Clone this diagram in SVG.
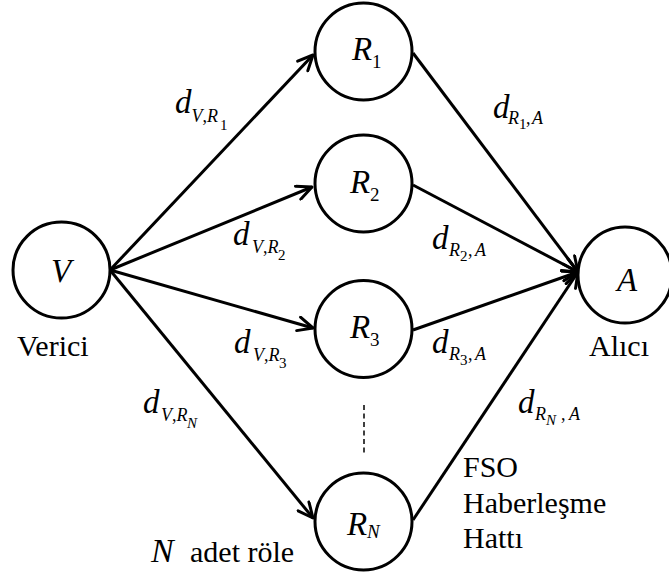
<svg xmlns="http://www.w3.org/2000/svg" width="669" height="579" viewBox="0 0 669 579" font-family="'Liberation Serif', 'Times New Roman', serif">
<style>
.node{fill:#fff;stroke:#000;stroke-width:3}
.edge{fill:none;stroke:#000;stroke-width:3;marker-end:url(#arr)}
.dash{fill:none;stroke:#000;stroke-width:1.5;stroke-dasharray:5,3.5}
text{font-family:'Liberation Serif','Times New Roman',serif;fill:#000}
.it{font-style:italic}
.big{font-size:33px}
.sub{font-size:18px}
.sub2{font-size:15px}
.rsub{font-size:19px}
.lbl{font-size:30px}
</style>
<defs>
<marker id="arr" viewBox="0 0 19 17" refX="17" refY="8.5" markerWidth="19" markerHeight="17" markerUnits="userSpaceOnUse" orient="auto">
<path d="M2,1.5 L17,8.5 L2,15.5" fill="none" stroke="#000" stroke-width="3" stroke-linejoin="round" stroke-linecap="round"/>
</marker>
</defs>
<rect width="669" height="579" fill="#fff"/>
<g id="connectors">
<line class="edge" x1="110" y1="270" x2="313" y2="55"/>
<line class="edge" x1="110" y1="270" x2="312" y2="187"/>
<line class="edge" x1="110" y1="270" x2="313" y2="328"/>
<line class="edge" x1="110" y1="270" x2="313" y2="518"/>
<line class="edge" x1="413" y1="53" x2="578" y2="272"/>
<line class="edge" x1="413" y1="185" x2="578" y2="272"/>
<line class="edge" x1="413" y1="330" x2="578" y2="272"/>
<line class="edge" x1="413" y1="520" x2="578" y2="272"/>
<line class="dash" x1="364" y1="405" x2="364" y2="453"/>
</g>
<g id="node-V">
<ellipse class="node" cx="61.5" cy="270" rx="48.5" ry="48"/>
<text class="it big" x="51" y="282">V</text>
<text class="lbl" x="17" y="356">Verici</text>
</g>
<g id="node-R1">
<ellipse class="node" cx="363.5" cy="51.5" rx="48.5" ry="48.5"/>
<text x="352" y="60"><tspan class="it big">R</tspan><tspan class="rsub" x="372" y="68">1</tspan></text>
</g>
<g id="node-R2">
<ellipse class="node" cx="363.5" cy="183.5" rx="48.5" ry="48.5"/>
<text x="350" y="193"><tspan class="it big">R</tspan><tspan class="rsub" x="370" y="201">2</tspan></text>
</g>
<g id="node-R3">
<ellipse class="node" cx="363.5" cy="329" rx="48.5" ry="48.5"/>
<text x="350" y="338"><tspan class="it big">R</tspan><tspan class="rsub" x="370" y="346">3</tspan></text>
</g>
<g id="node-RN">
<ellipse class="node" cx="363.5" cy="521.5" rx="48.5" ry="48.5"/>
<text x="347" y="535"><tspan class="it big">R</tspan><tspan class="it rsub" x="367" y="538">N</tspan></text>
</g>
<g id="node-A">
<ellipse class="node" cx="625" cy="275" rx="47" ry="48"/>
<text class="it big" x="617" y="291">A</text>
<text class="lbl" x="589" y="356">Alıcı</text>
</g>
<g id="labels">
<text x="175" y="113"><tspan class="it big">d</tspan><tspan class="sub" y="122"><tspan class="it">V</tspan>,<tspan class="it">R</tspan></tspan><tspan class="sub2" x="220" y="130">1</tspan></text>
<text x="493" y="118"><tspan class="it big">d</tspan><tspan class="sub it" x="508" y="124">R</tspan><tspan class="sub2" x="519" y="129">1</tspan><tspan class="sub" x="526" y="124">,</tspan><tspan class="sub it" x="532" y="124">A</tspan></text>
<text x="233" y="245"><tspan class="it big">d</tspan><tspan class="sub" x="252" y="253"><tspan class="it">V</tspan>,<tspan class="it">R</tspan></tspan><tspan class="sub2" x="278" y="260">2</tspan></text>
<text x="432" y="249"><tspan class="it big">d</tspan><tspan class="sub it" x="449" y="256">R</tspan><tspan class="sub2" x="460" y="261">2</tspan><tspan class="sub" x="468" y="256">,</tspan><tspan class="sub it" x="475" y="256">A</tspan></text>
<text x="234" y="353"><tspan class="it big">d</tspan><tspan class="sub" x="253" y="361"><tspan class="it">V</tspan>,<tspan class="it">R</tspan></tspan><tspan class="sub2" x="279" y="368">3</tspan></text>
<text x="432" y="353"><tspan class="it big">d</tspan><tspan class="sub it" x="449" y="360">R</tspan><tspan class="sub2" x="460" y="365">3</tspan><tspan class="sub" x="468" y="360">,</tspan><tspan class="sub it" x="475" y="360">A</tspan></text>
<text x="143" y="413"><tspan class="it big">d</tspan><tspan class="sub" x="161" y="421"><tspan class="it">V</tspan>,<tspan class="it">R</tspan></tspan><tspan class="sub2 it" x="187" y="428">N</tspan></text>
<text x="518" y="413"><tspan class="it big">d</tspan><tspan class="sub it" x="535" y="420">R</tspan><tspan class="sub2 it" x="546" y="425">N</tspan><tspan class="sub" x="561" y="420">,</tspan><tspan class="sub it" x="569" y="420">A</tspan></text>
<text class="lbl" x="463" y="477">FSO</text>
<text class="lbl" x="463" y="513">Haberleşme</text>
<text class="lbl" x="463" y="548">Hattı</text>
<text x="151" y="562"><tspan class="it" font-size="34px">N</tspan><tspan class="lbl" x="190">adet röle</tspan></text>
</g>
</svg>
